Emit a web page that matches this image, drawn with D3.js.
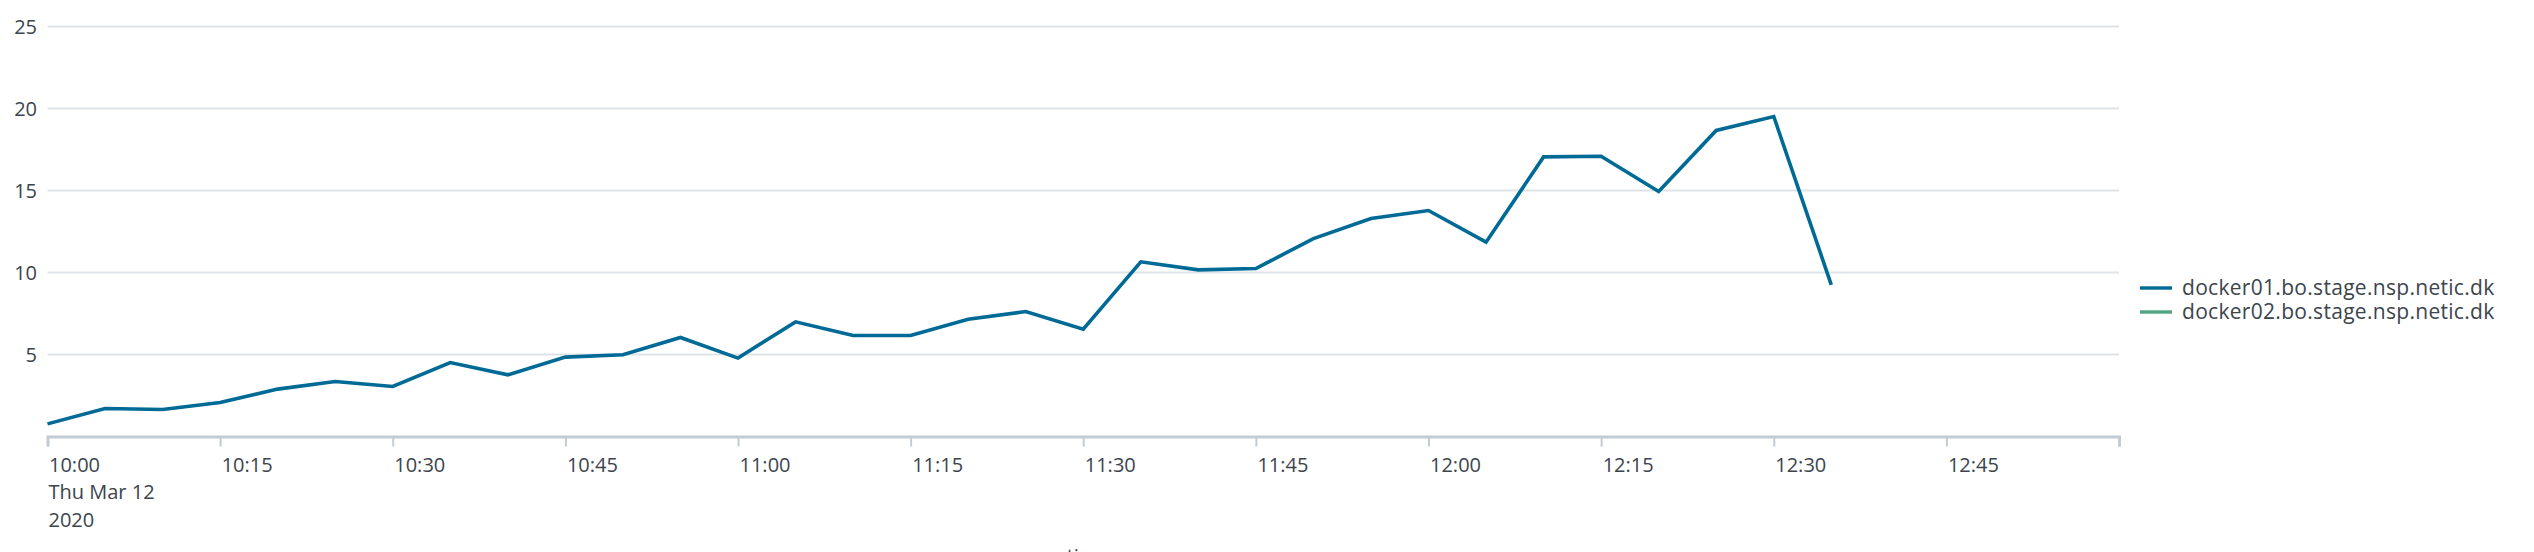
<html>
<style>
body { margin: 0; background: #fff; }
text { font-family: "Open Sans", sans-serif; fill: #3c444d; }
</style>
<body>
<script src="https://d3js.org/d3.v7.min.js"></script>
<script>

// docker01 readings, one every 5 minutes from 10:00
var times = ["10:00","10:05","10:10","10:15","10:20","10:25","10:30","10:35","10:40","10:45",
             "10:50","10:55","11:00","11:05","11:10","11:15","11:20","11:25","11:30","11:35",
             "11:40","11:45","11:50","11:55","12:00","12:05","12:10","12:15","12:20","12:25",
             "12:30","12:35"];
var docker01 = [0.77,1.71,1.65,2.07,2.89,3.35,3.05,4.51,3.76,4.84,
                4.98,6.04,4.78,6.99,6.16,6.16,7.15,7.62,6.54,10.65,
                10.16,10.24,12.07,13.29,13.78,11.85,17.05,17.09,14.94,18.66,
                19.51,9.25];
var docker02 = [];

var seriesNames = ["docker01.bo.stage.nsp.netic.dk", "docker02.bo.stage.nsp.netic.dk"];
var seriesColors = ["#006a96", "#4fa484"];
var yTicks = [5, 10, 15, 20, 25];
var xStart = "10:00", xEnd = "13:00";

var width = 2534,
    height = 552,
    mLeft = 47.5,
    mRight = 2119,
    mTop = 26.5,
    mBottom = 436.5;

var parse = d3.timeParse("%Y-%m-%d %H:%M");
function t(s) { return parse("2020-03-12 " + s); }

var x = d3.scaleTime()
    .domain([t(xStart), t(xEnd)])
    .range([mLeft, mRight]);

var y = d3.scaleLinear()
    .domain([0, 25])
    .range([mBottom, mTop]);

var svg = d3.select("body").append("svg")
    .attr("width", width)
    .attr("height", height);

// gridlines
svg.selectAll(".grid")
    .data(yTicks)
  .enter().append("line")
    .attr("x1", mLeft)
    .attr("x2", mRight)
    .attr("y1", d => y(d))
    .attr("y2", d => y(d))
    .style("stroke", "#dfe3e8")
    .style("stroke-width", 2);

svg.selectAll(".ylab")
    .data(yTicks)
  .enter().append("text")
    .attr("x", 37)
    .attr("y", d => y(d))
    .attr("dy", "0.36em")
    .attr("text-anchor", "end")
    .style("font-size", "20px")
    .text(d => d);

// x axis
var xAxis = d3.axisBottom(x)
    .ticks(d3.timeMinute.every(15))
    .tickSize(10)
    .tickFormat(d => +d === +t(xEnd) ? "" : d3.timeFormat("%H:%M")(d));

var gx = svg.append("g")
    .attr("transform", "translate(0," + mBottom + ")")
    .call(xAxis);

gx.select(".domain").style("stroke", "#c3cbd4").style("stroke-width", 3);
gx.selectAll(".tick line").style("stroke", "#c3cbd4").style("stroke-width", 2);
gx.selectAll(".tick text")
    .attr("text-anchor", "start")
    .attr("x", 1)
    .attr("y", 35)
    .attr("dy", 0)
    .style("font-size", "20px")
    .style("font-family", "'Open Sans', sans-serif")
    .style("fill", "#3c444d");

// date under first tick
svg.append("text")
    .attr("x", mLeft + 1)
    .attr("y", 499)
    .style("font-size", "20px")
    .text("Thu Mar 12");
svg.append("text")
    .attr("x", mLeft + 1)
    .attr("y", 527)
    .style("font-size", "20px")
    .text("2020");

// axis title, mostly cut off at the bottom
svg.append("text")
    .attr("x", (mLeft + mRight) / 2)
    .attr("y", 563)
    .attr("text-anchor", "middle")
    .style("font-size", "20px")
    .text("_time");

var line = d3.line()
    .x((d, i) => x(t(times[i])))
    .y(d => y(d));

[docker01, docker02].forEach(function(vals, k) {
  if (!vals.length) return;
  svg.append("path")
      .datum(vals)
      .attr("d", line)
      .style("fill", "none")
      .style("stroke", seriesColors[k])
      .style("stroke-width", 3.6)
      .style("stroke-linejoin", "miter");
});

// legend
var lg = svg.selectAll(".legend")
    .data(seriesNames)
  .enter().append("g")
    .attr("transform", (d, i) => "translate(2140," + (288 + i * 24) + ")");

lg.append("line")
    .attr("x1", 0)
    .attr("x2", 32)
    .style("stroke", (d, i) => seriesColors[i])
    .style("stroke-width", 3.4);

lg.append("text")
    .attr("x", 42)
    .attr("dy", "0.35em")
    .style("font-size", "21px")
    .style("letter-spacing", "0.3px")
    .text(d => d);

</script>
</body>
</html>
